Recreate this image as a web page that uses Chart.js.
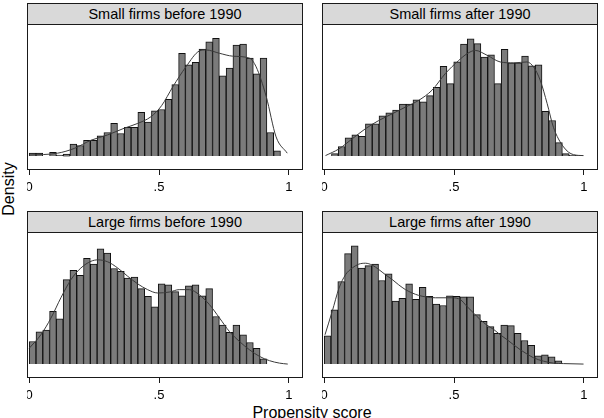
<!DOCTYPE html>
<html>
<head>
<meta charset="utf-8">
<script src="https://cdn.jsdelivr.net/npm/chart.js@4/dist/chart.umd.min.js"></script>
<style>
  body { margin: 0; background: #fff; }
  #wrap { position: relative; width: 604px; height: 418px; overflow: hidden;
          font-family: "Liberation Sans", Arial, Helvetica, sans-serif; color: #000; }
  .strip { position: absolute; box-sizing: border-box; height: 22px; border: 1px solid #1a1a1a;
           background: #d9d9d9; text-align: center; font-size: 14.5px; line-height: 20px; }
  canvas { position: absolute; }
  .axis-title { position: absolute; font-size: 16px; white-space: nowrap; }
</style>
</head>
<body>
<div id="wrap">
  <div class="axis-title" id="ytitle" style="left:-18px; top:180px; transform: rotate(-90deg);">Density</div>
  <div class="axis-title" id="xtitle" style="left:0; width:624px; text-align:center; top:404px;">Propensity score</div>
</div>
<script>
// panel titles
var panelTitles = ['Small firms before 1990', 'Small firms after 1990',
                   'Large firms before 1990', 'Large firms after 1990'];

// histogram bins: first edge and width per panel
var binStart = [0, 0.028, 0, 0];
var binWidth = 0.02616;

// bar densities
var smallBefore = [0.06, 0.06, 0, 0.08, 0.02, 0.04, 0.25, 0.22, 0.33, 0.33,
                   0.42, 0.49, 0.68, 0.47, 0.60, 0.60, 0.91, 0.71, 0.94, 0.97,
                   1.18, 1.49, 2.14, 1.90, 1.95, 2.23, 2.38, 2.45, 1.67, 1.83,
                   2.31, 2.33, 2.04, 1.71, 2.04, 0.49, 0.11];
var smallAfter = [0.05, 0.20, 0.38, 0.44, 0.41, 0.67, 0.67, 0.84, 0.90, 0.96,
                  1.08, 1.08, 1.17, 1.13, 1.26, 1.43, 1.87, 1.51, 1.96, 2.33,
                  2.44, 2.34, 2.06, 2.11, 1.51, 2.22, 1.94, 1.94, 2.08, 1.88,
                  1.90, 0.93, 0.74, 0.28, 0.05, 0.02, 0.01];
var largeBefore = [0.47, 0.67, 0.71, 1.10, 0.94, 1.76, 1.95, 1.85, 2.20, 2.08,
                   2.40, 2.31, 1.99, 1.93, 1.79, 1.81, 1.57, 1.41, 1.19, 1.67,
                   1.65, 1.51, 1.42, 1.63, 1.65, 1.42, 1.57, 0.99, 0.81, 0.66,
                   0.81, 0.61, 0.45, 0.33, 0.11];
var largeAfter = [0.59, 1.13, 1.72, 2.30, 2.46, 2.00, 2.05, 2.08, 1.74, 1.88,
                  1.31, 1.37, 1.67, 1.35, 1.60, 1.41, 1.25, 1.22, 1.42, 1.41,
                  1.40, 1.40, 1.03, 0.89, 0.78, 0.64, 0.81, 0.80, 0.64, 0.49,
                  0.39, 0.17, 0.19, 0.15, 0.07];

// kernel density curves: x positions and heights
var kdeSmallBeforeX = [0, 0.109, 0.174, 0.238, 0.302, 0.366, 0.418, 0.469, 0.51, 0.553,
                       0.604, 0.656, 0.681, 0.733, 0.784, 0.848, 0.874, 0.913, 0.951, 0.994];
var kdeSmallBeforeY = [0.02, 0.06, 0.16, 0.33, 0.44, 0.58, 0.68, 0.82, 1.05, 1.44,
                       1.86, 2.19, 2.21, 2.14, 2.08, 2.04, 1.86, 1.24, 0.40, 0.06];
var kdeSmallAfterX = [0.005, 0.057, 0.108, 0.159, 0.210, 0.262, 0.313, 0.364, 0.415, 0.467,
                      0.518, 0.55, 0.582, 0.627, 0.678, 0.73, 0.781, 0.807, 0.832, 0.859,
                      0.883, 0.922, 0.96, 0.999];
var kdeSmallAfterY = [0.01, 0.15, 0.36, 0.57, 0.74, 0.88, 1.02, 1.16, 1.37, 1.72,
                      1.99, 2.13, 2.20, 2.10, 1.96, 1.94, 1.96, 1.85, 1.58, 1.09,
                      0.60, 0.19, 0.03, 0.01];
var kdeLargeBeforeX = [0, 0.045, 0.084, 0.122, 0.161, 0.199, 0.238, 0.264, 0.302, 0.341,
                       0.379, 0.418, 0.456, 0.495, 0.54, 0.578, 0.617, 0.656, 0.694, 0.733,
                       0.771, 0.81, 0.848, 0.887, 0.926, 0.964, 0.996];
var kdeLargeBeforeY = [0.33, 0.61, 0.96, 1.38, 1.76, 2.00, 2.14, 2.17, 2.13, 2.00,
                       1.83, 1.67, 1.55, 1.48, 1.50, 1.55, 1.55, 1.44, 1.24, 0.96,
                       0.68, 0.47, 0.30, 0.16, 0.07, 0.02, 0.00];
var kdeLargeAfterX = [0.003, 0.031, 0.057, 0.082, 0.108, 0.133, 0.159, 0.185, 0.21, 0.236,
                      0.262, 0.287, 0.313, 0.339, 0.364, 0.39, 0.428, 0.492, 0.525, 0.55,
                      0.576, 0.602, 0.627, 0.653, 0.678, 0.704, 0.73, 0.755, 0.781, 0.807,
                      0.845, 0.883, 0.922, 0.999];
var kdeLargeAfterY = [0.61, 1.10, 1.58, 1.86, 2.00, 2.08, 2.10, 2.06, 1.97, 1.86,
                      1.76, 1.65, 1.55, 1.48, 1.43, 1.40, 1.38, 1.38, 1.34, 1.20,
                      1.06, 0.92, 0.81, 0.72, 0.61, 0.51, 0.40, 0.30, 0.21, 0.13,
                      0.06, 0.02, 0.01, 0.00];

var xTickValues = [0, 0.5, 1];
var xTickLabels = ['0', '.5', '1'];

var series = [smallBefore, smallAfter, largeBefore, largeAfter];
var kdeX = [kdeSmallBeforeX, kdeSmallAfterX, kdeLargeBeforeX, kdeLargeAfterX];
var kdeY = [kdeSmallBeforeY, kdeSmallAfterY, kdeLargeBeforeY, kdeLargeAfterY];

// frame of each plot region, in page pixels
var frames = [
    {left: 27, top: 24, width: 276, height: 146},
    {left: 322, top: 24, width: 276, height: 146},
    {left: 27, top: 232, width: 276, height: 146},
    {left: 322, top: 232, width: 276, height: 146}
];
var axisBand = 26;

var framePlugin = {
    id: 'frame',
    afterDraw: function (chart) {
        var a = chart.chartArea, ctx = chart.ctx;
        ctx.save();
        ctx.strokeStyle = '#1a1a1a';
        ctx.lineWidth = 1;
        ctx.strokeRect(a.left + 0.5, a.top + 0.5, a.right - a.left - 1, a.bottom - a.top - 1);
        ctx.restore();
    }
};

function makePanel(i) {
    var wrap = document.getElementById('wrap'),
        f = frames[i];
    var strip = document.createElement('div');
    strip.className = 'strip';
    strip.style.left = f.left + 'px';
    strip.style.top = (f.top - 21) + 'px';
    strip.style.width = f.width + 'px';
    strip.textContent = panelTitles[i];
    wrap.appendChild(strip);

    var canvas = document.createElement('canvas');
    canvas.width = f.width;
    canvas.height = f.height + axisBand;
    canvas.style.left = f.left + 'px';
    canvas.style.top = f.top + 'px';
    wrap.appendChild(canvas);

    var bars = series[i].map(function (v, k) {
        return {x: binStart[i] + (k + 0.5) * binWidth, y: v};
    });
    var curve = kdeX[i].map(function (x, k) {
        return {x: x, y: kdeY[i][k]};
    });

    return new Chart(canvas, {
        type: 'bar',
        data: {
            datasets: [{
                type: 'line',
                data: curve,
                borderColor: '#3a3a3a',
                borderWidth: 1,
                pointRadius: 0,
                tension: 0.4,
                cubicInterpolationMode: 'monotone',
                order: 0
            }, {
                type: 'bar',
                data: bars,
                backgroundColor: '#7b7b7b',
                borderColor: '#111',
                borderWidth: 1,
                barPercentage: 1,
                categoryPercentage: 1,
                order: 1
            }]
        },
        options: {
            animation: false,
            responsive: false,
            maintainAspectRatio: false,
            layout: {padding: 0},
            plugins: {legend: {display: false}, tooltip: {enabled: false}},
            scales: {
                x: {
                    type: 'linear',
                    offset: false,
                    min: -0.0085,
                    max: 1.0547,
                    afterBuildTicks: function (scale) {
                        scale.ticks = xTickValues.map(function (v) { return {value: v}; });
                    },
                    afterFit: function (scale) {
                        scale.height = axisBand;
                        scale.paddingLeft = 0;
                        scale.paddingRight = 0;
                    },
                    ticks: {
                        autoSkip: false,
                        maxRotation: 0,
                        padding: 5,
                        color: '#000',
                        font: {family: '"Liberation Sans", Arial, sans-serif', size: 13},
                        callback: function (v) {
                            return xTickLabels[xTickValues.indexOf(v)];
                        }
                    },
                    grid: {drawOnChartArea: false, drawTicks: true, tickLength: 5,
                           color: '#1a1a1a', offset: false},
                    border: {display: false}
                },
                y: {display: false, min: -0.29, max: 2.75}
            }
        },
        plugins: [framePlugin]
    });
}

[0, 1, 2, 3].forEach(makePanel);
</script>
</body>
</html>
